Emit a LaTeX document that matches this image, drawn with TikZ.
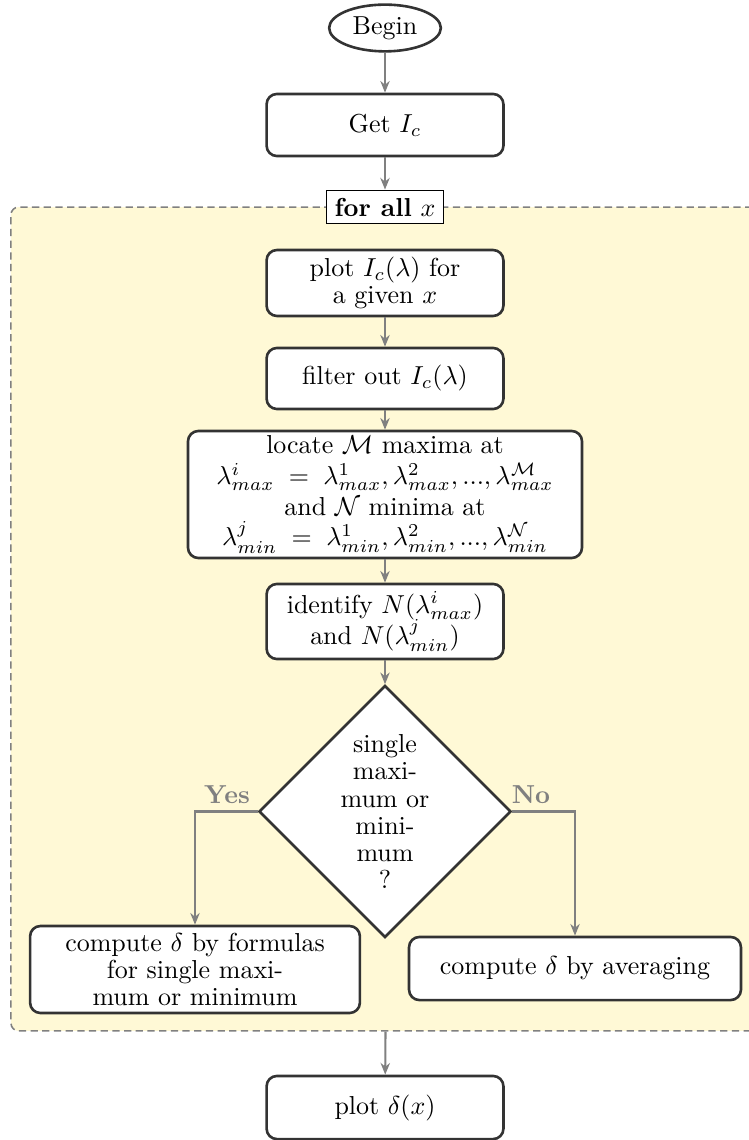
\documentclass[tikz,border=0pt]{standalone}
\usetikzlibrary{shapes.geometric,arrows.meta}
\definecolor{loopfill}{RGB}{255,249,214}
\definecolor{flowgray}{RGB}{128,128,128}
\definecolor{boxline}{RGB}{51,51,51}
\begin{document}
\begin{tikzpicture}[x=0.385pt,y=-0.385pt,
  every node/.style={font=\fontsize{10}{10.4}\selectfont, align=center},
  stepbox/.style={draw=boxline, line width=1pt, fill=white, rounded corners=4pt,
    inner sep=0pt, minimum width=91.2pt, minimum height=24pt},
  startnode/.style={draw=boxline, line width=1pt, fill=white, ellipse,
    inner sep=0pt, minimum width=43pt, minimum height=18pt},
  decision/.style={draw=boxline, line width=1pt, fill=white, diamond, aspect=1,
    inner sep=0pt, minimum width=97pt, minimum height=97pt},
  flow/.style={draw=flowgray, line width=0.8pt, -{Stealth[length=4.5pt,width=3.6pt]}},
  branchlabel/.style={text=flowgray, font=\fontsize{10}{10.4}\selectfont\bfseries},
  looparea/.style={draw=flowgray, line width=0.6pt, dash pattern=on 2.8pt off 1.7pt,
    fill=loopfill, rounded corners=3pt, inner sep=0pt},
  looptitle/.style={draw=black, line width=0.4pt, fill=white, inner sep=0pt,
    minimum width=44.8pt, minimum height=13pt}
]
\useasboundingbox (0,0) rectangle (748,1140);

% repeated region for every x
\node[looparea, minimum width=288.4pt, minimum height=317.2pt] (loop) at (385.5,619) {};

% nodes
\node[startnode] (begin) at (385,28) {Begin};
\node[stepbox, minimum height=23.9pt] (get) at (385,125) {Get $I_c$};
\node[looptitle] (forall) at (385,207) {\textbf{for all} $x$};
\node[stepbox, minimum height=25.4pt] (plotI) at (385,283) {plot $I_c(\lambda)$ for\\a given $x$};
\node[stepbox, minimum height=23.5pt] (filter) at (385,378.5) {filter out $I_c(\lambda)$};
\node[stepbox, minimum width=151.7pt, minimum height=48.9pt,
      font=\fontsize{10}{11.8}\selectfont] (locate) at (385,494.5)
  {locate $\mathcal{M}$ maxima at\\
   $\lambda^i_{max} \;=\; \lambda^1_{max},\lambda^2_{max},...,\lambda^{\mathcal{M}}_{max}$\\
   and $\mathcal{N}$ minima at\\
   $\lambda^j_{min} \;=\; \lambda^1_{min},\lambda^2_{min},...,\lambda^{\mathcal{N}}_{min}$};
\node[stepbox, minimum height=28.9pt, font=\fontsize{10}{12}\selectfont] (identify) at (385,621.5)
  {identify $N(\lambda^i_{max})$\\and $N(\lambda^j_{min})$};
\node[decision] (single) at (385,811.5) {single\\maxi-\\mum or\\mini-\\mum\\?};
\node[stepbox, minimum width=127pt, minimum height=33.5pt] (formulas) at (195,969.5)
  {compute $\delta$ by formulas\\for single maxi-\\mum or minimum};
\node[stepbox, minimum width=127.8pt, minimum height=24.3pt] (averaging) at (575,968.5)
  {compute $\delta$ by averaging};
\node[stepbox, minimum height=24.3pt] (plotdelta) at (385,1107.5) {plot $\delta(x)$};

\node[branchlabel] (yes) at (227,795) {Yes};
\node[branchlabel] (no) at (531,795) {No};

% connectors
\draw[flow] (begin) -- (get);
\draw[flow] (get) -- (forall);
\draw[flow] (plotI) -- (filter);
\draw[flow] (filter) -- (locate);
\draw[flow] (locate) -- (identify);
\draw[flow] (identify) -- (single);
\draw[flow] (single.west) -| (formulas.north);
\draw[flow] (single.east) -| (averaging.north);
\draw[flow] (loop.south) -- (plotdelta);
\end{tikzpicture}
\end{document}
